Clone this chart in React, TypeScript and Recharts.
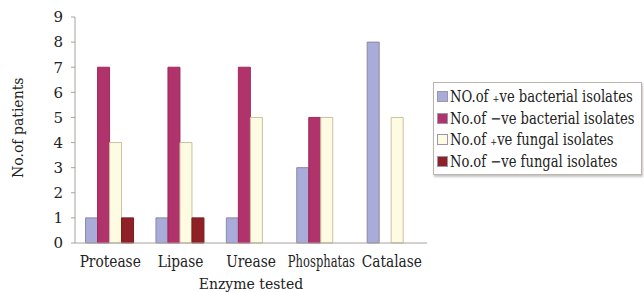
import { BarChart, Bar, XAxis, YAxis, Legend } from 'recharts'

const enzymes = ['Protease', 'Lipase', 'Urease', 'Phosphatas', 'Catalase']
const posBacterial = [1, 1, 1, 3, 8]
const negBacterial = [7, 7, 7, 5, 0]
const posFungal = [4, 4, 5, 5, 5]
const negFungal = [1, 1, 0, 0, 0]
const yTicks = [0, 1, 2, 3, 4, 5, 6, 7, 8, 9]
const seriesKeys = ['pb', 'nb', 'pf', 'nf']

const data = enzymes.map((name, i) => ({
  name,
  pb: posBacterial[i],
  nb: negBacterial[i],
  pf: posFungal[i],
  nf: negFungal[i],
}))

const FONT = 'DejaVu Serif'
const AXIS = '#a8a39c'

// DejaVu Serif is wider than the Times-like face of the original, so squeeze it a bit
function CategoryTick(props: any) {
  const { x, y, payload } = props
  const label = String(payload.value)
  const sx = label.length > 8 ? 0.72 : 0.86
  return (
    <g transform={`translate(${x},${y})`}>
      <text transform={`scale(${sx},1)`} textAnchor="middle" dy="0.95em" fill="#222" fontFamily={FONT} fontSize={16}>
        {label}
      </text>
    </g>
  )
}

function LegendBox(props: any) {
  const payload = [...(props.payload || [])].sort(
    (a: any, b: any) => seriesKeys.indexOf(a.dataKey) - seriesKeys.indexOf(b.dataKey))
  return (
    <div style={{
      border: '1px solid #b8b4ae', boxShadow: '1px 2px 2px #c8c4c0',
      padding: '3px 6px 2px 3px', background: '#fff', width: 198,
    }}>
      {payload.map((p: any) => (
        <div key={p.dataKey} style={{ display: 'flex', alignItems: 'center', height: 21.5, fontFamily: FONT, fontSize: 16, color: '#222', whiteSpace: 'nowrap' }}>
          <span style={{ flexShrink: 0, width: 9, height: 9, background: p.color, border: '1px solid #9a98a8', marginRight: 2, display: 'inline-block' }} />
          <span style={{ display: 'inline-block', transform: 'scaleX(0.82)', transformOrigin: 'left center' }}>{p.value}</span>
        </div>
      ))}
    </div>
  )
}

export default function App() {
  return (
    <div style={{ position: 'absolute', left: 0, top: 0, width: 644, height: 292, background: '#fff' }}>
      <BarChart width={644} height={292} data={data} barGap={0} barCategoryGap="15%"
        margin={{ top: 17, right: 217, bottom: 0, left: 15 }}>
        <XAxis dataKey="name" height={49} stroke={AXIS} tickLine={false} tickSize={4} tickMargin={5}
          interval={0} tick={<CategoryTick />}
          label={{ value: 'Enzyme tested', position: 'insideBottom', offset: 3, fill: '#222', fontFamily: FONT, fontSize: 14 }} />
        <YAxis domain={[0, 9]} ticks={yTicks} interval={0} width={60} stroke={AXIS} tickSize={4} tickMargin={8}
          tick={{ fill: '#222', fontFamily: FONT, fontSize: 15 }}
          label={{ value: 'No.of patients', angle: -90, position: 'insideLeft', offset: 3, dy: 48, fill: '#222', fontFamily: FONT, fontSize: 14 }} />
        <Legend layout="vertical" align="center" verticalAlign="middle" content={<LegendBox />}
          wrapperStyle={{ left: 433, top: 82, width: 210 }} />
        <Bar dataKey="pb" name="NO.of ₊ve bacterial isolates" fill="#a9acd9" stroke="#8a88a6" strokeWidth={1} isAnimationActive={false} />
        <Bar dataKey="nb" name="No.of −ve bacterial isolates" fill="#b1336b" stroke="#a02a5c" strokeWidth={1} isAnimationActive={false} />
        <Bar dataKey="pf" name="No.of ₊ve fungal isolates" fill="#fdfbe2" stroke="#c8c0a0" strokeWidth={1} isAnimationActive={false} />
        <Bar dataKey="nf" name="No.of −ve fungal isolates" fill="#8f2126" stroke="#7a1c20" strokeWidth={1} isAnimationActive={false} />
      </BarChart>
    </div>
  )
}
